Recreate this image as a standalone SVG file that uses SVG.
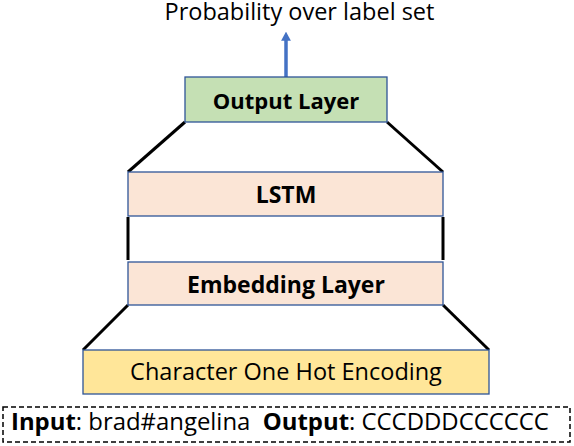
<svg xmlns="http://www.w3.org/2000/svg" width="574" height="446" viewBox="0 0 574 446">
<style>
text{font-family:"Open Sans","Liberation Sans",sans-serif;fill:#000}
.b{font-weight:bold}
.box{stroke:#2F5597;stroke-width:1.3}
.ln{stroke:#000;stroke-width:3;fill:none}
</style>
<defs>
<marker id="ah" markerWidth="2.6" markerHeight="2.8" refX="0.5" refY="1.4" orient="auto" markerUnits="strokeWidth"><path d="M0,0L2.6,1.4L0,2.8z" fill="#4472C4"/></marker>
</defs>
<rect width="574" height="446" fill="#fff"/>
<g id="connectors">
<line x1="286" y1="77" x2="286" y2="39" stroke="#4472C4" stroke-width="3.5" marker-end="url(#ah)"/>
<line class="ln" x1="185" y1="122" x2="128" y2="172"/>
<line class="ln" x1="387" y1="122" x2="443" y2="172"/>
<line class="ln" x1="128" y1="217" x2="128" y2="260"/>
<line class="ln" x1="443" y1="217" x2="443" y2="260"/>
<line class="ln" x1="128" y1="305" x2="83" y2="350"/>
<line class="ln" x1="443" y1="305" x2="489" y2="350"/>
</g>
<g id="title"><text x="299.5" y="20" font-size="23.5" text-anchor="middle">Probability over label set</text></g>
<g id="output"><rect class="box" x="185" y="77" width="202" height="45" fill="#C5E0B4"/><text class="b" x="286" y="109" font-size="22" text-anchor="middle">Output Layer</text></g>
<g id="lstm"><rect class="box" x="128" y="172" width="315" height="44" fill="#FBE5D6"/><text class="b" x="286" y="203" font-size="23" text-anchor="middle">LSTM</text></g>
<g id="embedding"><rect class="box" x="128" y="262" width="315" height="43" fill="#FBE5D6"/><text class="b" x="286" y="293" font-size="23" text-anchor="middle">Embedding Layer</text></g>
<g id="onehot"><rect class="box" x="83" y="350" width="406" height="44" fill="#FFE699"/><text x="286" y="380" font-size="23.5" text-anchor="middle">Character One Hot Encoding</text></g>
<g id="io"><rect x="3" y="407" width="567" height="35" fill="none" stroke="#000" stroke-width="1.5" stroke-dasharray="5,3"/><text x="11" y="430" font-size="23.9"><tspan class="b">Input</tspan>: brad#angelina&#160; <tspan class="b">Output</tspan>: CCCDDDCCCCCC</text></g>
</svg>
